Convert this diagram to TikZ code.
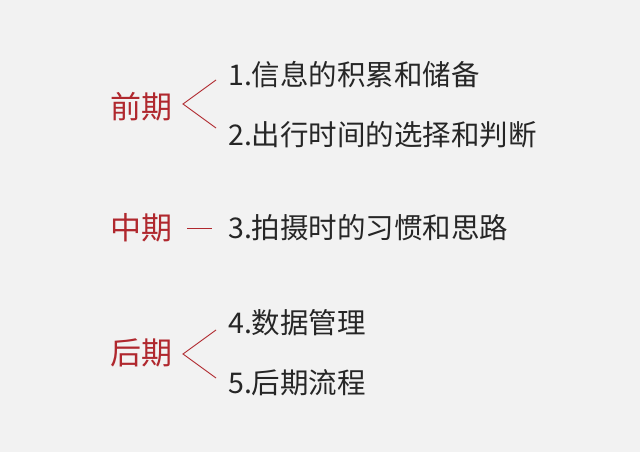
\documentclass[tikz,border=0pt]{standalone}
\usepackage{fontspec}
\newfontfamily\cjk{Noto Sans CJK SC}
\definecolor{bg}{HTML}{F2F2F2}
\definecolor{redt}{HTML}{B0282E}
\tikzset{
 lab/.style={text=redt,font=\cjk\fontsize{31}{31}\selectfont,inner sep=0},
 item/.style={anchor=west,font=\cjk\fontsize{28.5}{28.5}\selectfont,inner sep=0,text=black!85},
 brk/.style={draw=redt,line width=0.9pt}
}
\begin{document}
\begin{tikzpicture}[x=1pt,y=-1pt]
\fill[bg] (0,0) rectangle (640,452);
\useasboundingbox (0,0) rectangle (640,452);
\node[lab] (a) at (141,107) {前期};
\node[lab] (b) at (141,228) {中期};
\node[lab] (c) at (141,353) {后期};
\coordinate (t1) at (216,80); \coordinate (p1) at (183,104); \coordinate (b1) at (216,128);
\draw[brk] (t1) -- (p1) -- (b1);
\coordinate (d1) at (187,228); \coordinate (d2) at (212,228);
\draw[brk] (d1) -- (d2);
\coordinate (t3) at (216,330); \coordinate (p3) at (183,354); \coordinate (b3) at (216,378);
\draw[brk] (t3) -- (p3) -- (b3);
\node[item] (i1) at (228,75) {1.信息的积累和储备};
\node[item] (i2) at (228,135) {2.出行时间的选择和判断};
\node[item] (i3) at (228,228) {3.拍摄时的习惯和思路};
\node[item] (i4) at (228,323) {4.数据管理};
\node[item] (i5) at (228,383) {5.后期流程};
\end{tikzpicture}
\end{document}
